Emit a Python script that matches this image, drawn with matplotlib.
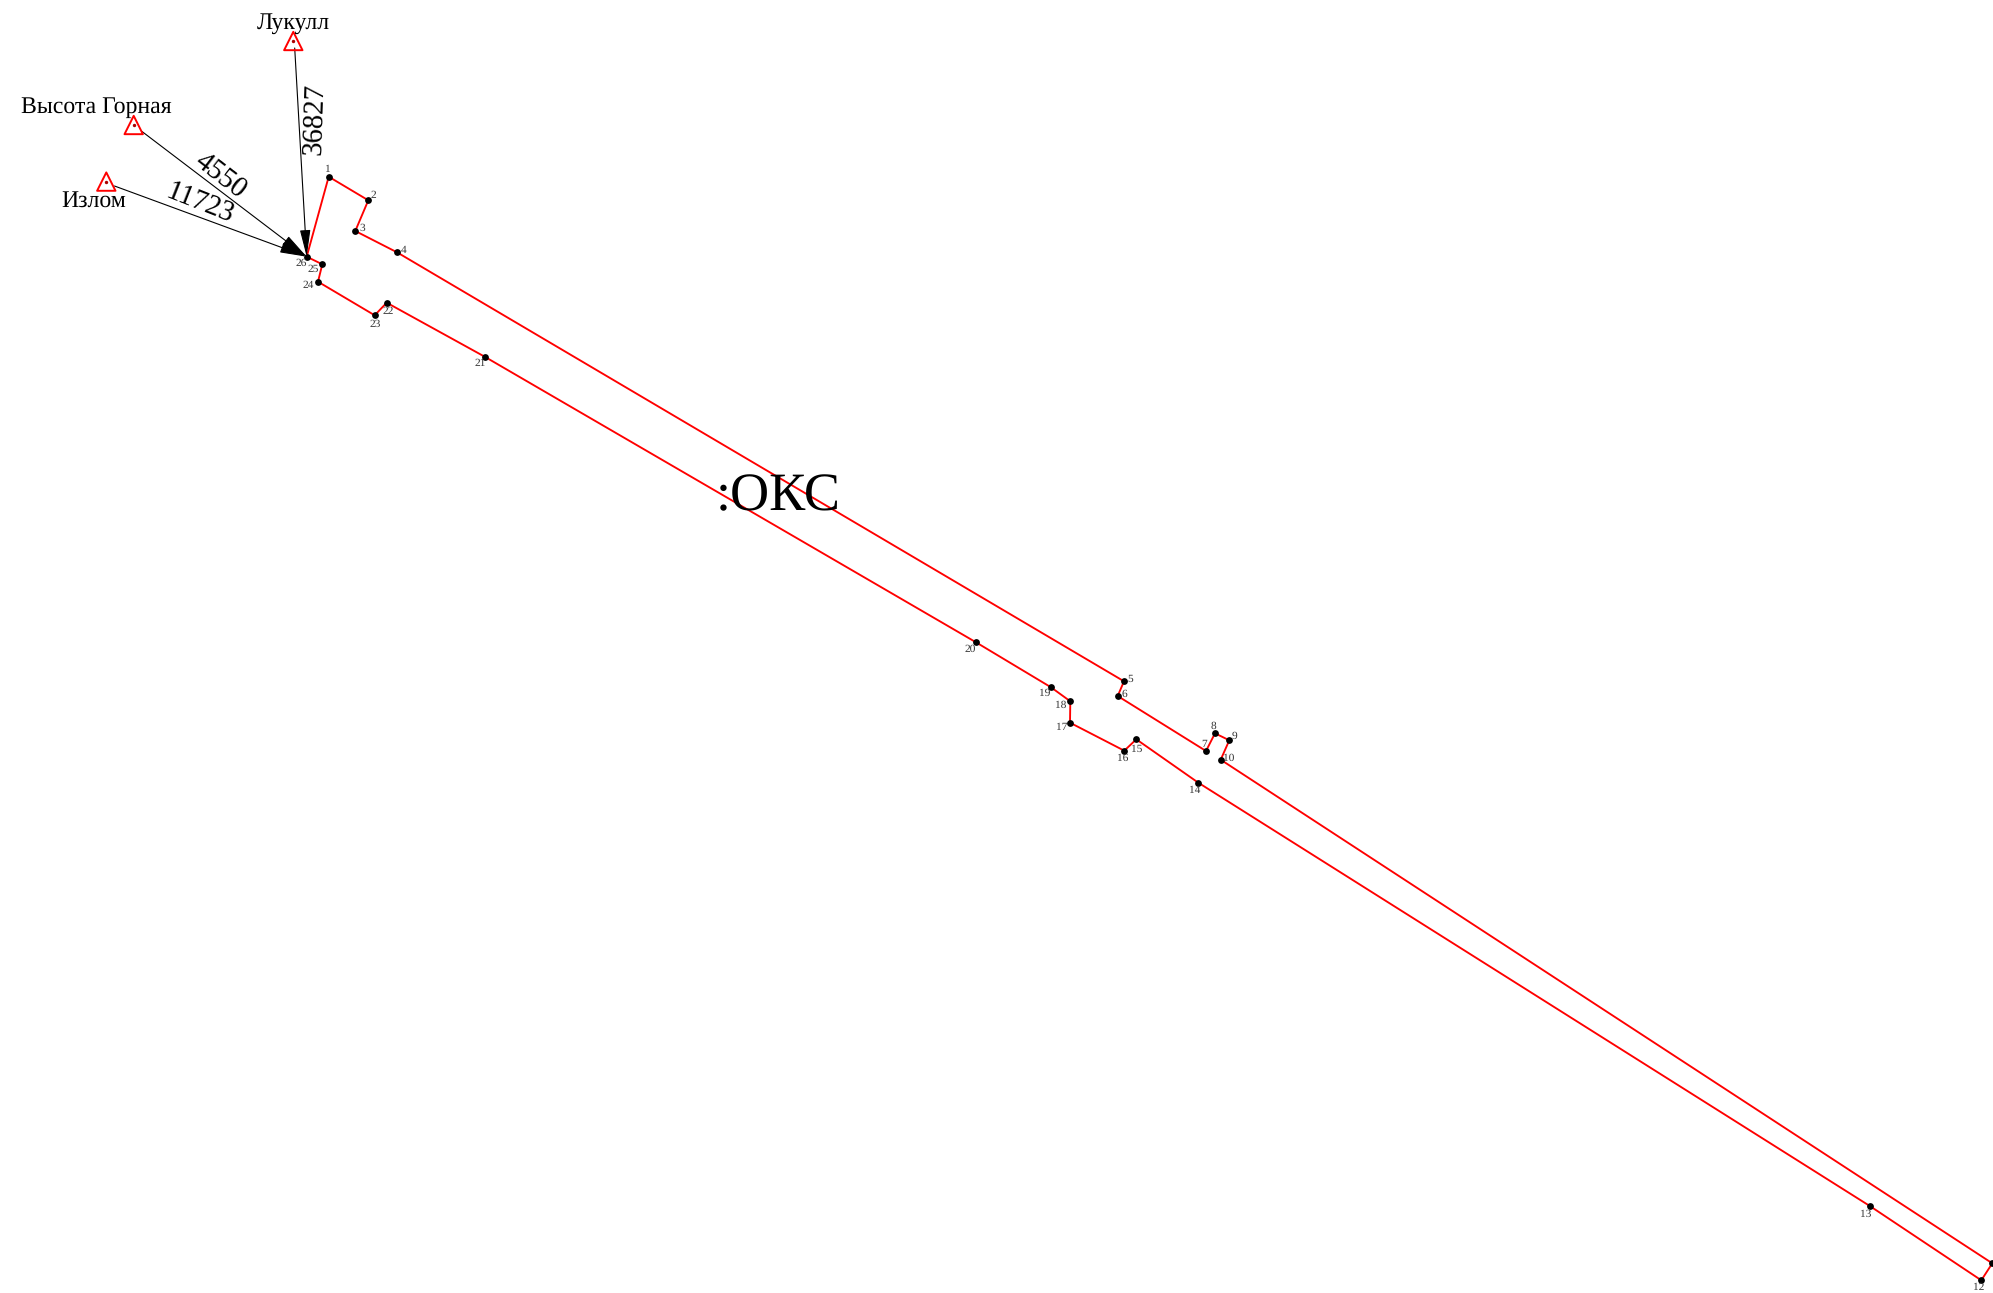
import matplotlib
matplotlib.use("Agg")
import matplotlib.pyplot as plt

plt.rcParams['font.family'] = ['Liberation Serif', 'DejaVu Serif']
plt.rcParams['text.hinting'] = 'none'

W, H = 1993, 1293

boundary_x = [328.7, 368.3, 355.3, 397, 1124, 1117.7, 1206, 1215, 1229.3, 1220.7, 1992.3, 1981.3, 1870.3,
              1198.3, 1136.3, 1124.3, 1070, 1070.3, 1051, 976, 484.7, 386.7, 374.7, 318, 322.3, 306.7]
boundary_y = [176.7, 200.3, 231, 252.3, 681.3, 696, 751, 733.3, 740.3, 759.7, 1263.3, 1280.3, 1206.3,
              782.7, 739.3, 750.7, 722.7, 701.3, 687.3, 642.3, 356.7, 302.7, 315.3, 281.7, 264.3, 256.7]
point_numbers = [str(i) for i in range(1, 27)]

label_x = [328.3, 373, 362.3, 403.7, 1130.3, 1124.3, 1204.3, 1213.7, 1234.7, 1229, None, 1978.7, 1866,
           1195, 1137, 1123, 1061.7, 1061, 1044.7, 970.3, 479.7, 387.7, 374.7, 308.3, 313.3, 300.7]
label_y = [169.5, 195.5, 228.2, 250.5, 679.5, 694.5, 744.2, 726.5, 735.8, 758.2, None, 1287.8, 1214.2,
           790.8, 749.2, 758.2, 727.8, 704.8, 693.2, 649.2, 363.5, 311.8, 324.2, 285.2, 269.2, 263.5]

station_names = ["Лукулл", "Высота Горная", "Излом"]
station_x = [293.3, 133.7, 106.3]
station_y = [41, 125, 181.6]
name_x = [293.3, 96, 93.5]
name_y = [23.5, 107.5, 201]
start_x = [294.7, 142, 114.5]
start_y = [48, 131.5, 186]
distances = ["36827", "4550", "11723"]
dist_x = [315, 221, 200]
dist_y = [119, 176, 203]
dist_rot = [88, -37.5, -21.5]
object_label = ":ОКС"

fig = plt.figure(figsize=(W / 100, H / 100), dpi=100)
ax = fig.add_axes([0, 0, 1, 1])
ax.set_xlim(0, W)
ax.set_ylim(H, 0)
ax.axis('off')

# boundary
ax.plot(boundary_x + boundary_x[:1], boundary_y + boundary_y[:1], color='#ff0000', lw=1.35, zorder=2,
        solid_joinstyle='miter')
ax.scatter(boundary_x, boundary_y, s=24, color='black', linewidths=0, zorder=3)

for t, x, y in zip(point_numbers, label_x, label_y):
    if x is not None:
        ax.text(x, y, t, fontsize=8.2, color='#333333', ha='center', va='center', zorder=4)

# observation lines
for sx, sy in zip(start_x, start_y):
    ax.annotate('', xy=(boundary_x[25], boundary_y[25]), xytext=(sx, sy),
                arrowprops=dict(arrowstyle='-|>,head_length=1.28,head_width=0.25', color='black', lw=0.8,
                                shrinkA=0, shrinkB=0, mutation_scale=13), zorder=5)

# stations
ax.scatter(station_x, station_y, s=175, marker='^', facecolors='none', edgecolors='#ff0000', linewidths=1.4, zorder=6)
ax.scatter(station_x, station_y, s=6, color='#aa0000', linewidths=0, zorder=6)

for t, x, y in zip(station_names, name_x, name_y):
    ax.text(x, y, t, fontsize=17.1, color='black', ha='center', va='center', zorder=7)
for t, x, y, r in zip(distances, dist_x, dist_y, dist_rot):
    ax.text(x, y, t, fontsize=20.6, color='black', ha='center', va='center', rotation=r,
            rotation_mode='anchor', zorder=7)

ax.text(778, 497, object_label, fontsize=39, color='black', ha='center', va='center', zorder=7)

fig.savefig('out.png', dpi=100, facecolor='white')
